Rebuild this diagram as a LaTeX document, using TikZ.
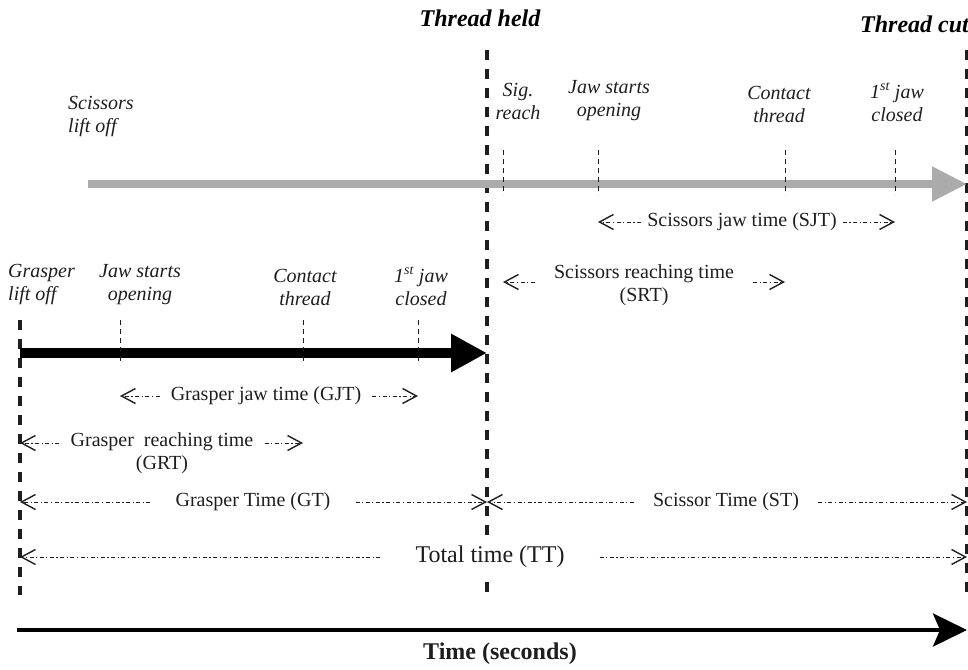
\documentclass[tikz,border=0pt]{standalone}
\usepackage{fontspec}
\setmainfont{Liberation Serif}
\usetikzlibrary{arrows.meta}
\definecolor{barGray}{HTML}{ABABAB}
\definecolor{ink}{HTML}{1E1E1E}
\tikzset{
  evlab/.style={font=\fontsize{20}{23}\selectfont\itshape, align=center, text=ink, inner sep=0pt},
  spanlab/.style={font=\fontsize{20}{23}\selectfont, align=center, text=ink, inner ysep=0pt},
  mainv/.style={line width=3.4pt, dash pattern=on 10pt off 9pt, ink},
  tickv/.style={line width=0.9pt, dash pattern=on 5pt off 4pt, ink},
  span/.style={line width=0.9pt, ink, dash pattern=on 4pt off 2.5pt on 1.2pt off 2.5pt,
    -{Straight Barb[length=14pt,width=15pt,line width=1.4pt]}},
  headline/.style={font=\fontsize{24}{28}\selectfont\bfseries\itshape, text=black, inner sep=0pt}
}
\begin{document}
\begin{tikzpicture}[x=1pt,y=-1pt]
\useasboundingbox (0,0) rectangle (968,669);

% --- reference coordinates -----------------------------------------
\coordinate (heldTop) at (487,50);  \coordinate (heldBot) at (487,595);
\coordinate (cutTop)  at (967,50);  \coordinate (cutBot)  at (967,595);
\coordinate (liftTop) at (20,320);  \coordinate (liftBot) at (20,595);

% --- main vertical dashed lines ---------------------------------------
\draw[mainv] (heldTop) -- (heldBot);
\draw[mainv] (cutTop) -- (cutBot);
\draw[mainv] (liftTop) -- (liftBot);

% --- headings -----------------------------------------------------------
\node[headline] (held) at (480,18) {Thread held};
\node[headline, anchor=west] (cut) at (860,24) {Thread cut};

% --- scissors (gray) time line -----------------------------------------
\coordinate (sStart) at (88,184);
\coordinate (sEnd) at (967,184);
\draw[barGray, line width=8pt, -{Triangle[length=35pt,width=33pt]}] (sStart) -- (sEnd);

\coordinate (sT1) at (503,184);
\coordinate (sT2) at (598,184);
\coordinate (sT3) at (785,184);
\coordinate (sT4) at (895,184);
\foreach \t in {sT1,sT2,sT3,sT4}{
  \draw[tickv] ([yshift=34pt]\t) -- ([yshift=-11pt]\t);
}

\node[evlab, anchor=west, align=left] (slift) at (68,117) {Scissors\\lift off};
\node[evlab] (ssig) at (518,101) {Sig.\\reach};
\node[evlab] (sjaw) at (609,101) {Jaw starts\\opening};
\node[evlab] (scon) at (779,104) {Contact\\thread};
\node[evlab] (sclo) at (897,102) {1\textsuperscript{st} jaw\\closed};

% SJT
\node[spanlab, inner xsep=6pt] (sjt) at (742,222) {Scissors jaw time (SJT)};
\draw[span] (sjt.west) -- (sjt.west -| sT2);
\draw[span] (sjt.east) -- (sjt.east -| sT4);

% SRT
\node[spanlab, inner xsep=19pt] (srt) at (644,285) {Scissors reaching time\\(SRT)};
\draw[span] ([yshift=3pt]srt.west) -- ([yshift=3pt]srt.west -| sT1);
\draw[span] ([yshift=3pt]srt.east) -- ([yshift=3pt]srt.east -| sT3);

% --- grasper (black) time line -------------------------------------------
\coordinate (gStart) at (20,353);
\coordinate (gEnd) at (487,353);
\draw[black, line width=10pt, -{Triangle[length=36pt,width=36pt]}] (gStart) -- (gEnd);

\coordinate (gT1) at (120,353);
\coordinate (gT2) at (303,353);
\coordinate (gT3) at (418,353);
\foreach \t in {gT1,gT2,gT3}{
  \draw[tickv] ([yshift=33pt]\t) -- ([yshift=-12pt]\t);
}

\node[evlab, anchor=west, align=left] (glift) at (8,285) {Grasper\\lift off};
\node[evlab] (gjaw) at (140,285) {Jaw starts\\opening};
\node[evlab] (gcon) at (305,287) {Contact\\thread};
\node[evlab] (gclo) at (421,286) {1\textsuperscript{st} jaw\\closed};

% GJT
\node[spanlab, inner xsep=11pt] (gjt) at (266,396) {Grasper jaw time (GJT)};
\draw[span] (gjt.west) -- (gjt.west -| gT1);
\draw[span] (gjt.east) -- (gjt.east -| gT3);

% GRT
\node[spanlab, inner xsep=11pt] (grt) at (162,453) {Grasper\ \ reaching time\\(GRT)};
\draw[span] ([yshift=10pt]grt.west) -- ([yshift=10pt]grt.west -| liftBot);
\draw[span] ([yshift=10pt]grt.east) -- ([yshift=10pt]grt.east -| gT2);

% GT and ST
\node[spanlab, inner xsep=25pt] (gt) at (253,502) {Grasper Time (GT)};
\draw[span] (gt.west) -- (gt.west -| liftBot);
\draw[span] (gt.east) -- (gt.east -| heldBot);

\node[spanlab, inner xsep=19pt] (st) at (726,502) {Scissor Time (ST)};
\draw[span] (st.west) -- (st.west -| heldBot);
\draw[span] (st.east) -- (st.east -| cutBot);

% TT
\node[spanlab, font=\fontsize{24}{28}\selectfont, inner xsep=35pt, inner ysep=6pt, fill=white] (tt) at (490,557) {Total time (TT)};
\draw[span] (tt.west) -- (tt.west -| liftBot);
\draw[span] (tt.east) -- (tt.east -| cutBot);

% --- time axis ---------------------------------------------------------------
\coordinate (axStart) at (17,630);
\coordinate (axEnd) at (967,630);
\draw[black, line width=4pt, -{Stealth[length=34pt,width=33pt,inset=7pt]}] (axStart) -- (axEnd);
\node[font=\fontsize{24}{28}\selectfont\bfseries, text=ink, inner sep=0pt] (axlab) at (500,654) {Time (seconds)};
\end{tikzpicture}
\end{document}
